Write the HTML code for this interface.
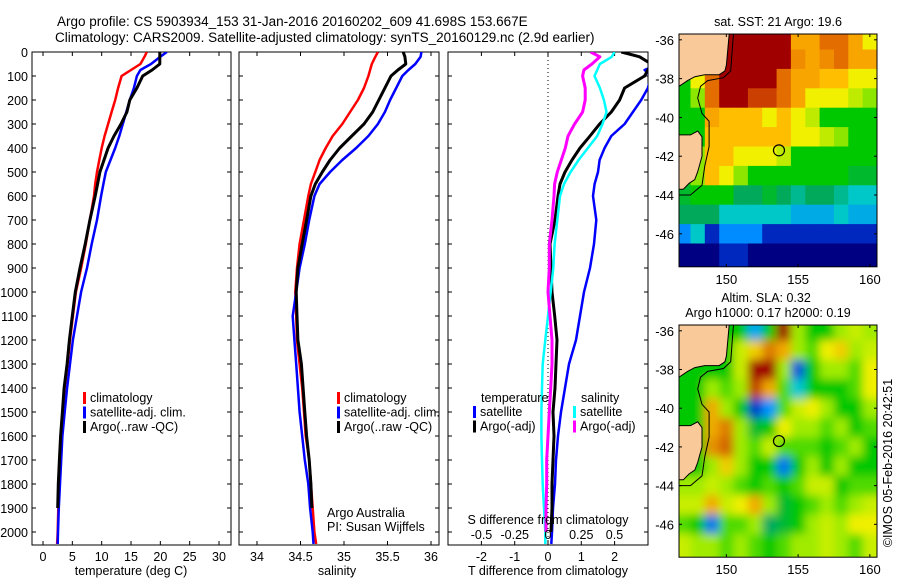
<!DOCTYPE html>
<html><head><meta charset="utf-8"><style>
body{margin:0;background:#fff}
svg{display:block;font-family:"Liberation Sans",sans-serif}
text{fill:#000}
</style></head><body>
<svg id="s" width="900" height="580" viewBox="0 0 900 580">
<defs>
<clipPath id="cp1"><rect x="32" y="52" width="199" height="493"/></clipPath>
<clipPath id="cp2"><rect x="239" y="52" width="200" height="493"/></clipPath>
<clipPath id="cp3"><rect x="448" y="52" width="200" height="493"/></clipPath>
<clipPath id="cm1"><rect x="679" y="34" width="198" height="233"/></clipPath>
<clipPath id="cm2"><rect x="679" y="325" width="198" height="232"/></clipPath>
<filter id="blur" x="-10%" y="-10%" width="120%" height="120%"><feGaussianBlur stdDeviation="4.5"/></filter>
</defs>
<text x="57" y="26" font-size="13.5">Argo profile: CS 5903934_153 31-Jan-2016 20160202_609 41.698S 153.667E</text>
<text x="55" y="42" font-size="13.5">Climatology: CARS2009. Satellite-adjusted climatology: synTS_20160129.nc (2.9d earlier)</text>
<g id="g"></g>
</svg>
<script>
// ---------- data ----------
const depths=[0,20,50,75,100,150,200,250,300,350,400,450,500,550,600,700,800,900,1000,1100,1200,1300,1400,1500,1600,1700,1800,1900,2000,2050];
const tClim=[17.7,17.3,16.6,15.0,13.4,12.8,12.3,11.7,11.1,10.5,10.0,9.6,9.2,8.9,8.7,8.0,7.3,6.5,5.6,5.1,4.6,4.2,3.7,3.4,3.2,2.9,2.7,2.6,2.5,2.4];
const tSat=[21.1,20.0,18.4,16.6,16.0,15.5,14.8,14.2,13.6,13.0,12.3,11.5,10.7,10.3,9.9,9.2,8.3,7.5,6.5,5.8,5.1,4.6,4.1,3.7,3.3,3.1,2.9,2.7,2.55,2.5];
const tArgo=[19.9,19.9,19.9,18.6,17.0,16.0,14.8,14.3,13.3,12.1,11.1,10.4,9.7,9.3,8.9,8.0,7.2,6.3,5.5,5.0,4.5,4.1,3.6,3.3,3.0,2.8,2.6,2.5,null,null];
const sClim=[35.39,35.36,35.32,35.30,35.28,35.23,35.16,35.07,34.98,34.87,34.79,34.72,34.67,34.62,34.59,34.54,34.49,34.46,34.44,34.45,34.46,34.49,34.52,34.54,34.56,34.60,34.62,34.64,34.66,34.68];
const sSat=[35.89,35.88,35.82,35.74,35.67,35.60,35.53,35.47,35.39,35.28,35.14,34.98,34.84,34.72,34.66,34.60,34.55,34.49,34.45,34.41,34.43,34.45,34.47,34.49,34.52,34.55,34.59,34.61,34.64,34.65];
const sArgo=[35.68,35.70,35.71,35.62,35.54,35.47,35.40,35.33,35.23,35.09,34.95,34.84,34.75,34.67,34.62,34.57,34.52,34.47,34.45,34.46,34.47,34.51,34.53,34.55,34.57,34.60,34.62,34.63,null,null];
const dtSat=[3.6,3.5,3.3,2.9,3.1,3.0,2.8,2.55,2.3,1.9,1.7,1.55,1.5,1.4,1.35,1.45,1.38,1.26,1.08,0.96,0.84,0.63,0.51,0.39,0.30,0.24,0.21,0.15,0.12,0.1];
const dtArgo=[2.2,2.75,3.1,3.0,2.9,2.3,2.15,1.9,1.55,1.26,0.96,0.72,0.51,0.36,0.30,0.21,0.06,0.09,0.12,0.20,0.27,0.24,0.21,0.15,0.18,0.15,0.12,0.12,0.09,null];
const dsSat=[0.50,0.48,0.39,0.37,0.35,0.39,0.42,0.44,0.41,0.37,0.30,0.23,0.17,0.12,0.09,0.07,0.05,0.04,0.02,0.0,-0.02,-0.04,-0.045,-0.05,-0.05,-0.045,-0.04,-0.03,-0.02,-0.02];
const dsArgo=[0.32,0.39,0.33,0.27,0.26,0.28,0.28,0.26,0.20,0.15,0.13,0.10,0.07,0.05,0.045,0.03,0.01,0.01,0.0,0.015,0.03,0.03,0.02,0.01,0.0,-0.01,-0.01,-0.015,-0.015,null];
const depthTicks=[0,100,200,300,400,500,600,700,800,900,1000,1100,1200,1300,1400,1500,1600,1700,1800,1900,2000];
const tTicks=[0,5,10,15,20,25,30];
const sTicks=["34","34.5","35","35.5","36"];
const dtTicks=["-2","-1","0","1","2"];
const dsTicks=["-0.5","-0.25","0","0.25","0.5"];
const lonTicks=[150,155,160];
const latTicks=[-36,-38,-40,-42,-44,-46];
const argoLon=153.667, argoLat=-41.698;
// SST grid: rows lat -36..-47, cols lon 147..160 (null = land)
const sstGrid=[
[null,null,null,21,21,21,21,21,19,19,20,20,19,18],
[null,null,null,21,21,21,21,21,19.5,19,19.5,20,19,19],
[16,18,20,21,21,21,21,20,19,19,18.5,18.5,18,18],
[16,17,20,21,21,20.5,20.5,20,19,18,18,18,17.5,17],
[16,16,19,18.5,18.5,18.5,18,18.5,18,17.5,16,16,16,16],
[null,16,18.5,18.5,18.5,18.5,18.5,18.5,18,18,17.5,17,16,16],
[null,17,18.5,18.5,18,18,18,17.5,16,16,16,16,16,16],
[null,17,18.5,18,17,16,16,16,16,16,16,16,15.5,15.5],
[15.5,16,16,16,15,15,15.5,15,14.5,15,15,14.5,14,14],
[15,15,15,14,14,14,14,14,13.5,13.5,13.5,14,13.5,13.5],
[13,14,12,13,13,13,12,12,12,12,12,12,12,12],
[11,11,11,12,12,11,11,11,11,11,11,11,11,11]];
const slaGrid=[
[0,0,0,0,0,-0.3,0,0.7,0.1,0,0,0.1,0.15,0.1],
[0,0,0,0,0.15,0.25,0.4,0.3,0.1,0.05,0.2,0.25,0.1,0.15],
[0,0,0,0,0.15,0.7,0.7,0.1,-0.45,0,0.1,0.1,0.05,0.2],
[0,0,0.1,0.05,0.1,0.5,0.3,0.05,-0.2,0,0,0,0.05,0.2],
[0,0,0.3,0.1,0,-0.5,-0.35,0.05,0.15,0.2,0.1,0,0,0.1],
[0,0,0.3,0.4,0.1,-0.05,0,0.2,0.1,0.1,0.05,0.1,0,0.05],
[0,0,0.35,0.45,0.1,0.05,0.15,0.05,0.05,0.05,0,0.05,0.1,0],
[0,0,0.1,0.25,0.1,0,0,-0.4,0,0.1,0,0.1,0,0],
[0.1,0.1,0.15,0.1,0.05,0,0.05,0,0.05,0.15,0.15,0,0.05,0.05],
[0.15,0.15,0.3,0.15,0.2,0.3,0.1,-0.05,0,0.05,0.1,0.05,0.1,0.15],
[0.05,0,-0.4,0.05,0.05,0.1,-0.1,-0.05,0,0.1,0.15,0.1,0.2,0.2],
[0.15,0.1,0.1,0.05,0.1,0.05,0,0.05,0.1,0.1,0.15,0.1,0.05,0.15]];
const mainland=[[146.7,-35.7],[150.2,-35.7],[150.1,-36.5],[150.0,-37.3],[149.9,-37.6],[149.5,-37.8],[148.5,-37.8],[147.8,-37.9],[147.3,-38.1],[146.7,-38.4]];
const tasmania=[[146.7,-40.9],[147.5,-40.9],[148.0,-40.7],[148.3,-41.0],[148.3,-42.0],[148.0,-42.8],[147.8,-43.2],[147.4,-43.4],[147.0,-43.7],[146.7,-43.7]];
const shelf=[[150.5,-35.7],[150.4,-36.6],[150.3,-37.6],[149.8,-37.95],[148.7,-38.1],[148.2,-38.4],[148.0,-39.0],[148.3,-39.8],[148.8,-40.2],[148.8,-41.5],[148.5,-42.5],[148.3,-43.5],[147.5,-44.0],[146.7,-44.0]];

// ---------- helpers ----------
const NS="http://www.w3.org/2000/svg";
const G=document.getElementById('g');
function el(tag,attrs,parent,txt){const e=document.createElementNS(NS,tag);for(const k in attrs)e.setAttribute(k,attrs[k]);if(txt!==undefined)e.textContent=txt;(parent||G).appendChild(e);return e;}
const yD=d=>52+d*0.24;
const xT=v=>43+v*5.867;
const xS=v=>257+(v-34)*87;
const xDT=v=>548+v*33.3;
const xDS=v=>548+v*133;
const xLon=v=>679+(v-146.7)*14.35;
const yLat1=v=>34+(-35.7-v)*19.4;
const yLat2=v=>325+(-35.7-v)*19.35;

function frame(x,y,w,h,name){const r=el('rect',{x:x,y:y,width:w,height:h,fill:'none',stroke:'#000','stroke-width':1});}
function series(vals,xf,color,clip,name,sw){
  let pts=[];
  for(let i=0;i<depths.length;i++){if(vals[i]===null||vals[i]===undefined)continue;pts.push(xf(vals[i]).toFixed(1)+','+yD(depths[i]).toFixed(1));}
  const p=el('polyline',{points:pts.join(' '),fill:'none',stroke:color,'stroke-width':sw||2.5,'clip-path':'url(#'+clip+')','stroke-linejoin':'round'});
  
  
}
function depthTicksOn(x0,x1){depthTicks.forEach(d=>{const y=yD(d);el('line',{x1:x0,y1:y,x2:x0+4,y2:y,stroke:'#000'});el('line',{x1:x1,y1:y,x2:x1-4,y2:y,stroke:'#000'});});}
function xTicks(list,xf,labels,top,bot,name){list.forEach((v,i)=>{const x=xf(+v);el('line',{x1:x,y1:top,x2:x,y2:top+4,stroke:'#000'});el('line',{x1:x,y1:bot,x2:x,y2:bot-4,stroke:'#000'});if(labels){const t=el('text',{x:x,y:bot+16,'font-size':12.5,'text-anchor':'middle'},G,String(v));}});}
function legend(x,y0,items,name){items.forEach((it,i)=>{const y=y0+i*14.5;el('rect',{x:x,y:y-10,width:3,height:12,fill:it[0]});const t=el('text',{x:x+7,y:y,'font-size':12.5},G,it[1]);});}

// ---------- y labels ----------
depthTicks.forEach(d=>{const t=el('text',{x:28,y:yD(d)+5,'font-size':12.5,'text-anchor':'end'},G,String(d));});

// ---------- panel 1 temperature ----------
frame(32,52,199,493,'temperature-panel');
depthTicksOn(32,231);
xTicks(tTicks,xT,true,52,545,'temperature-tick-label');
series(tClim,xT,'#ff0000','cp1','temp-climatology-line');
series(tSat,xT,'#0000ff','cp1','temp-satellite-line');
series(tArgo,xT,'#000000','cp1','temp-argo-line',3);
el('text',{x:131,y:575,'font-size':12.5,'text-anchor':'middle',},G,'temperature (deg C)');
legend(83,402,[['#ff0000','climatology'],['#0000ff','satellite-adj. clim.'],['#000','Argo(..raw -QC)']],'temperature-legend-entry');

// ---------- panel 2 salinity ----------
frame(239,52,200,493,'salinity-panel');
depthTicksOn(239,439);
xTicks(sTicks,xS,true,52,545,'salinity-tick-label');
series(sClim,xS,'#ff0000','cp2','sal-climatology-line');
series(sSat,xS,'#0000ff','cp2','sal-satellite-line');
series(sArgo,xS,'#000000','cp2','sal-argo-line',3);
el('text',{x:337,y:575,'font-size':12.5,'text-anchor':'middle',},G,'salinity');
legend(337,402,[['#ff0000','climatology'],['#0000ff','satellite-adj. clim.'],['#000','Argo(..raw -QC)']],'salinity-legend-entry');
el('text',{x:327,y:517,'font-size':12.5,},G,'Argo Australia');
el('text',{x:327,y:531,'font-size':12.5,},G,'PI: Susan Wijffels');

// ---------- panel 3 differences ----------
frame(448,52,200,493,'difference-panel');
depthTicksOn(448,648);
xTicks(dtTicks,xDT,true,52,545,'t-diff-tick-label');
el('line',{x1:xDT(0),y1:52,x2:xDT(0),y2:545,stroke:'#000','stroke-dasharray':'1,3',});
series(dtSat,xDT,'#0000ff','cp3','t-diff-satellite-line');
series(dtArgo,xDT,'#000000','cp3','t-diff-argo-line',3);
series(dsSat,xDS,'#00ffff','cp3','s-diff-satellite-line');
series(dsArgo,xDS,'#ff00ff','cp3','s-diff-argo-line',3);
dsTicks.forEach(v=>{const t=el('text',{x:xDS(+v),y:539,'font-size':12.5,'text-anchor':'middle'},G,v);});
el('text',{x:548,y:524,'font-size':12.5,'text-anchor':'middle',},G,'S difference from climatology');
el('text',{x:548,y:575,'font-size':12.5,'text-anchor':'middle',},G,'T difference from climatology');
el('text',{x:481,y:402,'font-size':12.5,},G,'temperature');
el('text',{x:581,y:402,'font-size':12.5,},G,'salinity');
legend(473,416,[['#0000ff','satellite'],['#000','Argo(-adj)']],'t-diff-legend-entry');
legend(573,416,[['#00ffff','satellite'],['#ff00ff','Argo(-adj)']],'s-diff-legend-entry');

// ---------- maps ----------
function lerpColor(stops,v){if(v<=stops[0][0])return stops[0][1];for(let i=1;i<stops.length;i++){if(v<=stops[i][0]){const a=stops[i-1],b=stops[i],f=(v-a[0])/(b[0]-a[0]);const c=a[1].map((x,k)=>Math.round(x+(b[1][k]-x)*f));return c;}}return stops[stops.length-1][1];}
const sstStops=[[11,[0,0,130]],[12,[0,40,190]],[13,[0,140,255]],[14,[0,200,200]],[15,[0,170,90]],[16,[0,200,0]],[17,[140,230,0]],[18,[240,240,0]],[18.5,[255,190,0]],[19.5,[240,140,0]],[20.3,[220,90,0]],[21,[160,0,0]]];
const slaStops=[[-0.5,[0,60,200]],[-0.35,[0,150,255]],[-0.2,[0,200,210]],[-0.1,[0,170,100]],[0,[0,200,0]],[0.1,[160,235,0]],[0.2,[240,240,0]],[0.3,[240,170,0]],[0.45,[210,100,0]],[0.6,[160,0,0]]];
const rgb=c=>'rgb('+c.join(',')+')';
function drawMap(grid,stops,yLat,clip,top,name,blur){
  const g=el('g',{'clip-path':'url(#'+clip+')'});
  
  
  el('rect',{x:679,y:top,width:198,height:233,fill:rgb(lerpColor(stops,blur?0:16))},g);
  const inner=el('g',blur?{filter:'url(#blur)'}:{},g);
  const last=grid.length-1;
  grid.forEach((row,r)=>row.forEach((v,c)=>{
    let y0=yLat(-35.5-r), y1=yLat(-36.5-r);
    let x0=xLon(146.5+c), x1=xLon(147.5+c);
    if(r==0)y0-=14; if(r==last)y1+=30; if(c==0)x0-=14; if(c==row.length-1)x1+=14;
    const rc=el('rect',{x:x0.toFixed(1),y:y0.toFixed(1),width:(x1-x0+0.6).toFixed(1),height:(y1-y0+0.6).toFixed(1),fill:rgb(lerpColor(stops,v===null?16:v))},inner);
    
    
  }));
  const poly=a=>a.map(p=>xLon(p[0]).toFixed(1)+','+yLat(p[1]).toFixed(1)).join(' ');
  el('polygon',{points:poly(mainland),fill:'#f9c99a',stroke:'#000','stroke-width':1,},g);
  el('polygon',{points:poly(tasmania),fill:'#f9c99a',stroke:'#000','stroke-width':1,},g);
  el('polyline',{points:poly(shelf),fill:'none',stroke:'#000','stroke-width':1,},g);
  el('circle',{cx:xLon(argoLon),cy:yLat(argoLat),r:5.5,fill:'none',stroke:'#000','stroke-width':1.2,});
  frame(679,top,198,yLat(-47.7)-top,name+'-frame');
  const bot=yLat(-47.7);
  lonTicks.forEach(v=>{const x=xLon(v);el('line',{x1:x,y1:top,x2:x,y2:top+3,stroke:'#000'});el('line',{x1:x,y1:bot,x2:x,y2:bot-3,stroke:'#000'});const t=el('text',{x:x,y:bot+17,'font-size':13,'text-anchor':'middle'},G,String(v));});
  latTicks.forEach(v=>{const y=yLat(v);el('line',{x1:679,y1:y,x2:682,y2:y,stroke:'#000'});el('line',{x1:877,y1:y,x2:874,y2:y,stroke:'#000'});const t=el('text',{x:674,y:y+5,'font-size':13,'text-anchor':'end'},G,String(v));});
}
drawMap(sstGrid,sstStops,yLat1,'cm1',34,'sst-map',false);
drawMap(slaGrid,slaStops,yLat2,'cm2',325,'sla-map',true);
el('text',{x:778,y:26,'font-size':12.5,'text-anchor':'middle',},G,'sat. SST: 21 Argo: 19.6');
el('text',{x:766,y:302,'font-size':12.5,'text-anchor':'middle',},G,'Altim. SLA: 0.32');
el('text',{x:768,y:317,'font-size':12.5,'text-anchor':'middle',},G,'Argo h1000: 0.17 h2000: 0.19');
el('text',{x:892,y:463,'font-size':12.5,'text-anchor':'middle',transform:'rotate(-90 892 463)',},G,'©IMOS 05-Feb-2016 20:42:51');
</script>
</body></html>
